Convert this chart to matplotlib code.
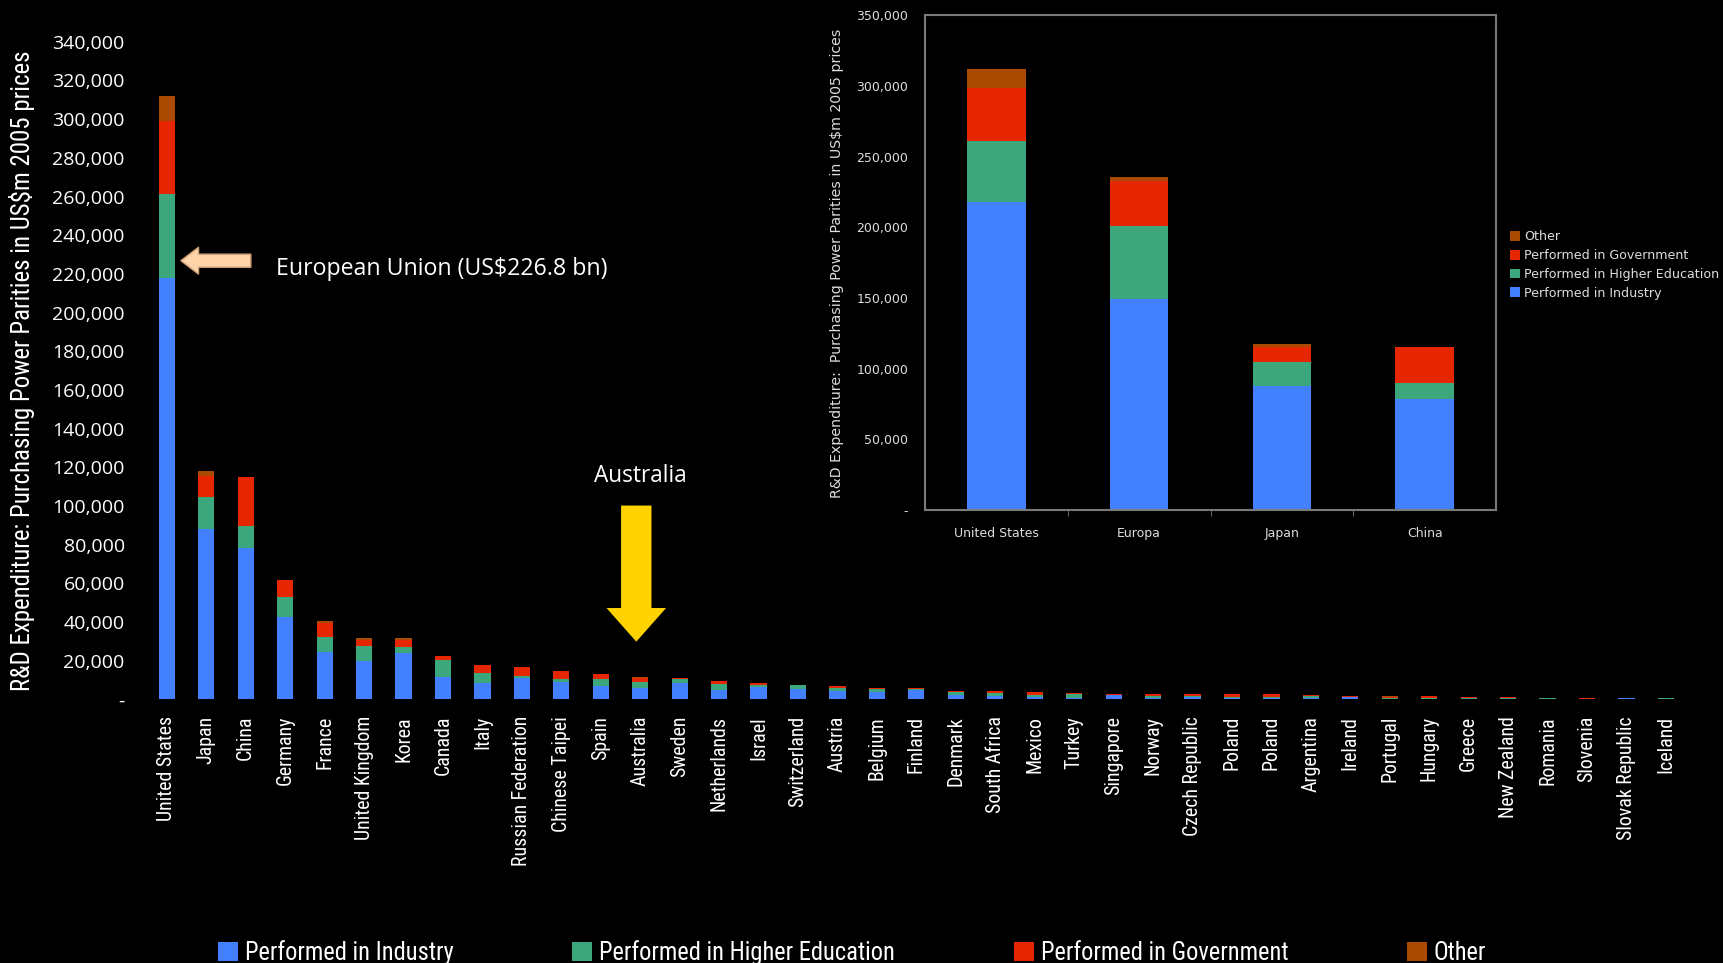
import os
import numpy as np
import matplotlib
matplotlib.use('Agg')
import matplotlib.pyplot as plt
import matplotlib.patches as patches
from matplotlib import font_manager
from matplotlib.font_manager import FontProperties
from matplotlib.textpath import TextToPath
from matplotlib.ticker import FuncFormatter, MultipleLocator, FixedLocator

# R&D expenditure by sector, US$m at 2005 PPP
countries = ['United States', 'Japan', 'China', 'Germany', 'France', 'United Kingdom',
             'Korea', 'Canada', 'Italy', 'Russian Federation', 'Chinese Taipei', 'Spain',
             'Australia', 'Sweden', 'Netherlands', 'Israel', 'Switzerland', 'Austria',
             'Belgium', 'Finland', 'Denmark', 'South Africa', 'Mexico', 'Turkey',
             'Singapore', 'Norway', 'Czech Republic', 'Poland', 'Poland', 'Argentina',
             'Ireland', 'Portugal', 'Hungary', 'Greece', 'New Zealand', 'Romania',
             'Slovenia', 'Slovak Republic', 'Iceland']
industry = [218000, 88100, 78400, 42600, 24700, 19800, 24000, 11600, 8400, 11200,
            9100, 7100, 6000, 8400, 5000, 6400, 5500, 4500, 3800, 4700,
            2400, 1700, 1400, 700, 2200, 900, 1200, 900, 900, 700,
            1300, 400, 400, 400, 400, 0, 0, 500, 0]
higher_ed = [43300, 16600, 11200, 10300, 7500, 7800, 3100, 8900, 5200, 1000,
             1400, 3400, 3100, 2100, 3100, 1000, 1900, 1400, 1700, 500,
             1400, 1600, 900, 2200, 100, 900, 500, 300, 300, 900,
             100, 500, 500, 500, 500, 500, 0, 0, 500]
government = [37500, 10700, 25500, 8800, 7300, 3100, 3600, 1900, 4200, 4500,
              4200, 2600, 2100, 500, 1400, 1000, 0, 1000, 200, 700,
              500, 1000, 1600, 300, 500, 1000, 1000, 1600, 1600, 500,
              300, 500, 600, 300, 300, 0, 500, 0, 0]
other = [13400, 2400, 0, 0, 1000, 1000, 1000, 0, 0, 0,
         0, 0, 400, 0, 0, 0, 0, 0, 300, 0,
         0, 0, 0, 0, 0, 0, 0, 0, 0, 200,
         0, 300, 200, 0, 0, 0, 0, 0, 0]

regions = ['United States', 'Europa', 'Japan', 'China']
reg_industry = [218000, 149000, 88100, 78400]
reg_higher_ed = [43300, 52300, 16600, 11200]
reg_government = [37500, 31600, 10700, 25500]
reg_other = [13400, 2900, 2400, 0]

eu_total = 226800

labels = ['Performed in Industry', 'Performed in Higher Education',
          'Performed in Government', 'Other']
colors = ['#4380FF', '#3CA77D', '#E52600', '#AA4A00']

W, H = 1723, 963
DPI = 100
_t2p = TextToPath()


def find_narrow():
    """Pick a condensed sans face if one is installed, else the narrowest plain one."""
    prefs = ['liberationsansnarrow-regular', 'notosans-condensed.', 'notosans-semicondensed.',
             'robotocondensed-regular', 'roboto_condensed-regular', 'opensans-condensed',
             'dejavusanscondensed.']
    files = [f.fname for f in font_manager.fontManager.ttflist]
    for key in prefs:
        for fn in files:
            if key in os.path.basename(fn).lower():
                return FontProperties(fname=fn)
    return FontProperties(family='Roboto')


def fit_size(prop, text, target_px):
    """Font size (pt) that makes `text` span target_px pixels."""
    p = prop.copy()
    p.set_size(10)
    w, _, _ = _t2p.get_text_width_height_descent(text, p, ismath=False)
    return 10 * target_px / (w * DPI / 72)


def sized(prop, size):
    p = prop.copy()
    p.set_size(size)
    return p


def px_rect(left, top, right, bottom):
    return [left / W, 1 - bottom / H, (right - left) / W, (bottom - top) / H]


def thousands(v, pos):
    return '-' if v == 0 else f'{int(v):,}'


def stacked(ax, x, series, width):
    base = np.zeros(len(x))
    for vals, color in zip(series, colors):
        vals = np.asarray(vals, dtype=float)
        ax.bar(x, vals, width, bottom=base, color=color, linewidth=0)
        base += vals


narrow = find_narrow()
verdana = FontProperties(family='DejaVu Sans')
opensans = FontProperties(family='Open Sans')

fig = plt.figure(figsize=(W / DPI, H / DPI), dpi=DPI, facecolor='black')

# main chart: all countries
ax = fig.add_axes(px_rect(140, 41.8, 1690, 699.3))
ax.set_facecolor('black')
x = np.arange(len(countries))
stacked(ax, x, [industry, higher_ed, government, other], 0.41)
ax.set_xlim(-0.68, 38.61)
ax.set_ylim(0, 340000)
ax.yaxis.set_major_locator(MultipleLocator(20000))
ax.yaxis.set_major_formatter(FuncFormatter(thousands))
for s in ax.spines.values():
    s.set_visible(False)
ax.set_xticks(x)
ax.set_xticklabels(countries, rotation=90, color='white')
xt_prop = sized(narrow, fit_size(narrow, 'United States', 105))
for t in ax.get_xticklabels():
    t.set_fontproperties(xt_prop)
ax.tick_params(axis='x', length=0, pad=12)
ax.tick_params(axis='y', length=0, pad=11, labelcolor='white')
for t in ax.get_yticklabels():
    t.set_fontproperties(sized(opensans, 14))

ylab = 'R&D Expenditure: Purchasing Power Parities in US$m 2005 prices'
fig.text(22 / W, 1 - 371 / H, ylab, rotation=90, ha='center', va='center', color='white',
         fontproperties=sized(narrow, fit_size(narrow, ylab, 642)))

# EU pointer on the US bar
ax.add_patch(patches.FancyArrow(2.13, eu_total, -1.775, 0, width=6800, head_width=14000,
                                head_length=0.45, length_includes_head=True,
                                facecolor='#FFD3A8', edgecolor='#C89C74', linewidth=1))
eu_text = f'European Union (US${eu_total / 1000:.1f} bn)'
ax.text(2.76, eu_total - 4500, eu_text, color='white', ha='left', va='center',
        fontproperties=sized(opensans, fit_size(opensans, eu_text, 332)))

# Australia pointer
au = countries.index('Australia')
ax.add_patch(patches.FancyArrow(au - 0.1, 100200, 0, 29800 - 100200, width=0.77, head_width=1.51,
                                head_length=17400, length_includes_head=True,
                                facecolor='#FFD200', edgecolor='none'))
ax.text(au, 115600, 'Australia', color='white', ha='center', va='center',
        fontproperties=sized(opensans, fit_size(opensans, 'Australia', 93)))

# bottom legend
leg_size = fit_size(narrow, 'Performed in Higher Education', 297)
em = leg_size * DPI / 72
handles = [patches.Patch(facecolor=c, edgecolor='none') for c in colors]
fig.legend(handles, labels, loc='center left', bbox_to_anchor=(218 / W, 1 - 953 / H), ncol=4,
           frameon=False, borderpad=0, borderaxespad=0, handlelength=20 / em,
           handleheight=20 / em, handletextpad=7 / em, columnspacing=118.5 / em,
           prop=sized(narrow, leg_size), labelcolor='white')

# inset: regional comparison
ax_in = fig.add_axes(px_rect(925, 15.4, 1496, 510))
ax_in.set_facecolor('black')
xr = np.arange(len(regions))
stacked(ax_in, xr, [reg_industry, reg_higher_ed, reg_government, reg_other], 0.41)
ax_in.set_xlim(-0.5, 3.5)
ax_in.set_ylim(0, 350000)
ax_in.yaxis.set_major_locator(MultipleLocator(50000))
ax_in.yaxis.set_major_formatter(FuncFormatter(thousands))
ax_in.set_xticks(xr)
ax_in.set_xticklabels(regions)
ax_in.xaxis.set_minor_locator(FixedLocator([0.5, 1.5, 2.5]))
for s in ax_in.spines.values():
    s.set_color('#7A7A7A')
    s.set_linewidth(1.5)
ax_in.tick_params(axis='x', which='major', length=0, pad=12, labelsize=9, labelcolor='#DDDDDD')
ax_in.tick_params(axis='x', which='minor', length=4, color='#7A7A7A')
ax_in.tick_params(axis='y', length=0, pad=12, labelsize=9, labelcolor='#DDDDDD')

in_ylab = 'R&D Expenditure:  Purchasing Power Parities in US$m 2005 prices'
fig.text(837 / W, 1 - 263.5 / H, in_ylab, rotation=90, ha='center', va='center',
         color='#DDDDDD', fontproperties=sized(verdana, fit_size(verdana, in_ylab, 469)))

in_leg = fit_size(verdana, 'Performed in Higher Education', 194)
in_em = in_leg * DPI / 72
ax_in.legend(handles[::-1], labels[::-1], loc='center left',
             bbox_to_anchor=(1510 / W, 1 - 265 / H), bbox_transform=fig.transFigure,
             frameon=False, borderpad=0, borderaxespad=0, handlelength=10 / in_em,
             handleheight=10 / in_em, handletextpad=4 / in_em, labelspacing=0.45,
             prop=sized(verdana, in_leg), labelcolor='#DDDDDD')

fig.savefig('out.png', dpi=DPI, facecolor='black')
